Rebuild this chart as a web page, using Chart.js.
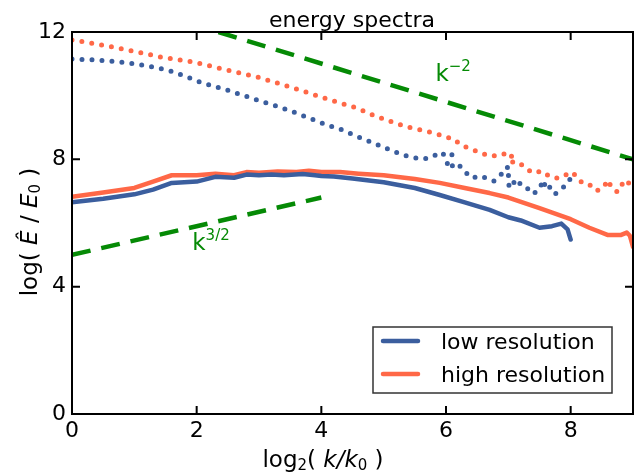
<!DOCTYPE html>
<html>
<head>
<meta charset="utf-8">
<script src="https://cdn.jsdelivr.net/npm/chart.js@4.4.1/dist/chart.umd.min.js"></script>
<style>
  html, body { margin: 0; padding: 0; background: #fff; }
  #wrap { width: 639px; height: 475px; }
</style>
</head>
<body>
<div id="wrap"><canvas id="spectra"></canvas></div>
<script>
// ==========================
// Data
// ==========================
const kLowSolid  = [0, 0.5, 1.0, 1.3, 1.6, 2.0, 2.3, 2.6, 2.8, 3.0, 3.2, 3.4, 3.7, 3.9, 4.0, 4.2, 4.5, 5.0, 5.5, 5.9, 6.3, 6.7, 7.0, 7.2, 7.5, 7.7, 7.85, 7.95, 8.0];
const eLowSolid  = [6.65, 6.76, 6.9, 7.05, 7.26, 7.3, 7.45, 7.42, 7.52, 7.5, 7.52, 7.5, 7.54, 7.5, 7.48, 7.46, 7.4, 7.28, 7.1, 6.88, 6.65, 6.41, 6.18, 6.08, 5.85, 5.9, 5.98, 5.8, 5.48];

const kHighSolid = [0, 0.5, 1.0, 1.3, 1.6, 2.0, 2.3, 2.6, 2.8, 3.0, 3.3, 3.6, 3.8, 4.0, 4.3, 4.6, 5.0, 5.5, 5.9, 6.3, 6.7, 7.0, 7.5, 8.0, 8.3, 8.6, 8.8, 8.9, 8.95, 9.0];
const eHighSolid = [6.82, 6.96, 7.1, 7.3, 7.5, 7.5, 7.55, 7.5, 7.6, 7.58, 7.62, 7.6, 7.64, 7.6, 7.6, 7.55, 7.5, 7.38, 7.26, 7.1, 6.94, 6.8, 6.47, 6.12, 5.85, 5.62, 5.62, 5.7, 5.6, 5.25];

const kLowDot = [0, 0.3, 0.6, 0.9, 1.14, 1.35, 1.57, 1.8, 2.05, 2.25, 2.48, 2.75, 3.02, 3.3, 3.55, 3.8, 4.09, 4.3, 4.57, 4.83, 5.1, 5.31, 5.5, 5.63, 5.78, 5.91, 5.99, 6.05, 6.1, 6.02, 6.03, 6.18, 6.29, 6.42, 6.55, 6.65, 6.77, 6.89, 6.97, 7.03, 7.0, 7.01, 7.01, 7.14, 7.22, 7.32, 7.4, 7.5, 7.56, 7.61, 7.67, 7.75, 7.85, 7.95, 8.01];
const eLowDot = [11.15, 11.13, 11.09, 11.03, 10.96, 10.88, 10.78, 10.62, 10.43, 10.31, 10.18, 10.01, 9.83, 9.66, 9.49, 9.3, 9.08, 8.95, 8.72, 8.52, 8.3, 8.14, 8.05, 8.01, 8.07, 8.23, 8.12, 8.15, 8.16, 7.9, 7.72, 7.89, 7.63, 7.41, 7.48, 7.41, 7.32, 7.54, 7.76, 7.7, 7.55, 7.3, 7.1, 7.38, 7.13, 7.07, 6.91, 7.07, 7.35, 7.04, 7.13, 6.91, 7.07, 7.23, 7.45];

const kHighDot = [0, 0.4, 0.88, 1.41, 1.94, 2.48, 3.02, 3.55, 4.09, 4.57, 4.83, 5.1, 5.37, 5.65, 5.9, 6.0, 6.12, 6.24, 6.39, 6.53, 6.68, 6.84, 6.98, 7.06, 7.01, 7.16, 7.29, 7.4, 7.54, 7.67, 7.8, 7.95, 8.03, 8.11, 8.2, 8.31, 8.41, 8.52, 8.6, 8.65, 8.75, 8.83, 8.89, 8.97, 9.0];
const eHighDot = [11.75, 11.62, 11.44, 11.22, 11.06, 10.81, 10.56, 10.24, 9.9, 9.61, 9.39, 9.2, 9.02, 8.9, 8.77, 8.7, 8.64, 8.45, 8.33, 8.23, 8.11, 8.11, 8.2, 8.14, 7.92, 7.92, 7.7, 7.57, 7.63, 7.45, 7.41, 7.54, 7.6, 7.41, 7.23, 7.19, 7.01, 7.1, 7.35, 7.13, 6.97, 7.23, 7.13, 7.38, 7.3];

// reference slopes: k^-2 and k^(3/2)
const kSlopeMinus2 = [2.35, 9];
const eSlopeMinus2 = [12, 8.0];
const kSlope3Half  = [0, 4];
const eSlope3Half  = [5.0, 6.8];

const xTicks = [0, 2, 4, 6, 8];
const yTicks = [0, 4, 8, 12];
const seriesNames = ["low resolution", "high resolution"];

// ==========================
// Styles
// ==========================
const BLUE   = "#3b5e9e";
const ORANGE = "#ff6847";
const GREEN  = "#058a05";
const FONT   = "'DejaVu Sans', sans-serif";

const pts = (xs, ys) => xs.map((x, i) => ({ x: x, y: ys[i] }));

function lineSet(label, xs, ys, color, extra) {
  return Object.assign({
    label: label,
    data: pts(xs, ys),
    showLine: true,
    borderColor: color,
    backgroundColor: color,
    borderWidth: 4.5,
    pointRadius: 0,
    pointHoverRadius: 0,
    tension: 0,
    borderCapStyle: "round",
    borderJoinStyle: "round"
  }, extra || {});
}

// draw a run of text pieces with their own fonts / offsets
function richWidth(ctx, parts) {
  let w = 0;
  parts.forEach(p => { ctx.font = p.font; w += ctx.measureText(p.t).width; });
  return w;
}
function drawRich(ctx, x, y, parts) {
  parts.forEach(p => {
    ctx.font = p.font;
    ctx.fillText(p.t, x, y + (p.dy || 0));
    x += ctx.measureText(p.t).width;
  });
}

// ==========================
// Frame, ticks, labels, legend
// ==========================
const decorPlugin = {
  id: "decor",
  afterDraw(chart) {
    const ctx = chart.ctx;
    const a = chart.chartArea;
    const xs = chart.scales.x, ys = chart.scales.y;
    ctx.save();

    // frame
    ctx.strokeStyle = "#000";
    ctx.lineWidth = 2;
    ctx.strokeRect(a.left, a.top, a.right - a.left, a.bottom - a.top);

    // inward ticks on all four sides
    const tl = 8;
    ctx.beginPath();
    xTicks.forEach(v => {
      const px = xs.getPixelForValue(v);
      ctx.moveTo(px, a.bottom); ctx.lineTo(px, a.bottom - tl);
      ctx.moveTo(px, a.top);    ctx.lineTo(px, a.top + tl);
    });
    yTicks.forEach(v => {
      const py = ys.getPixelForValue(v);
      ctx.moveTo(a.left, py);  ctx.lineTo(a.left + tl, py);
      ctx.moveTo(a.right, py); ctx.lineTo(a.right - tl, py);
    });
    ctx.stroke();

    ctx.fillStyle = "#000";
    ctx.textBaseline = "alphabetic";
    ctx.textAlign = "left";

    // title
    ctx.font = "22px " + FONT;
    ctx.textAlign = "center";
    ctx.fillText("energy spectra", 352, 27);
    ctx.textAlign = "left";

    // x axis title: log2( k/k0 )
    const big = "23px " + FONT, bigI = "italic 23px " + FONT, sub = "15px " + FONT;
    const xParts = [
      { t: "log", font: big }, { t: "2", font: sub, dy: 3 },
      { t: "( ", font: big }, { t: "k/k", font: bigI },
      { t: "0", font: sub, dy: 3 }, { t: " )", font: big }
    ];
    drawRich(ctx, 323 - richWidth(ctx, xParts) / 2, 467, xParts);

    // y axis title: log( Ê / E0 )
    const yParts = [
      { t: "log( ", font: big }, { t: "Ê", font: bigI },
      { t: " / ", font: big }, { t: "E", font: bigI },
      { t: "0", font: sub, dy: 3 }, { t: " )", font: big }
    ];
    ctx.save();
    ctx.translate(37, 232);
    ctx.rotate(-Math.PI / 2);
    drawRich(ctx, -richWidth(ctx, yParts) / 2, 0, yParts);
    ctx.restore();

    // slope annotations
    ctx.fillStyle = GREEN;
    const gk = "23px " + FONT, gs = "15px " + FONT;
    drawRich(ctx, xs.getPixelForValue(5.83), ys.getPixelForValue(10.47),
      [{ t: "k", font: gk }, { t: "−2", font: gs, dy: -10 }]);
    drawRich(ctx, xs.getPixelForValue(1.93), ys.getPixelForValue(5.15),
      [{ t: "k", font: gk }, { t: "3/2", font: gs, dy: -10 }]);

    // legend box
    const lx = 373, ly = 327, lw = 239, lh = 66;
    ctx.fillStyle = "#fff";
    ctx.fillRect(lx, ly, lw, lh);
    ctx.strokeStyle = "#333";
    ctx.lineWidth = 1.5;
    ctx.strokeRect(lx, ly, lw, lh);
    [BLUE, ORANGE].forEach((c, i) => {
      const yy = ly + 14 + i * 33;
      ctx.strokeStyle = c;
      ctx.lineWidth = 4.5;
      ctx.lineCap = "round";
      ctx.beginPath();
      ctx.moveTo(lx + 10, yy); ctx.lineTo(lx + 45, yy);
      ctx.stroke();
      ctx.fillStyle = "#000";
      ctx.font = "22px " + FONT;
      ctx.fillText(seriesNames[i], lx + 68, yy + 8);
    });

    ctx.restore();
  }
};

// ==========================
// Chart
// ==========================
new Chart(document.getElementById("spectra"), {
  type: "scatter",
  data: {
    datasets: [
      lineSet("low dotted", kLowDot, eLowDot, BLUE, { borderWidth: 5, borderDash: [0, 10] }),
      lineSet("high dotted", kHighDot, eHighDot, ORANGE, { borderWidth: 5, borderDash: [0, 10] }),
      lineSet(seriesNames[0], kLowSolid, eLowSolid, BLUE),
      lineSet(seriesNames[1], kHighSolid, eHighSolid, ORANGE),
      lineSet("k^-2", kSlopeMinus2, eSlopeMinus2, GREEN, { borderWidth: 4.5, borderDash: [19, 11], borderCapStyle: "butt" }),
      lineSet("k^3/2", kSlope3Half, eSlope3Half, GREEN, { borderWidth: 4.5, borderDash: [19, 11], borderCapStyle: "butt" })
    ]
  },
  options: {
    responsive: true,
    maintainAspectRatio: false,
    animation: false,
    events: [],
    layout: { padding: { left: 0, right: 6, top: 32, bottom: 0 } },
    plugins: {
      legend: { display: false },
      tooltip: { enabled: false },
      title: { display: false }
    },
    scales: {
      x: {
        type: "linear",
        min: 0, max: 9,
        afterBuildTicks: s => { s.ticks = xTicks.map(v => ({ value: v })); },
        afterFit: s => { s.height = 61; },
        grid: { display: false, drawTicks: false },
        border: { display: false },
        ticks: { color: "#000", font: { family: FONT, size: 22 }, padding: 4, maxRotation: 0 }
      },
      y: {
        type: "linear",
        min: 0, max: 12,
        afterBuildTicks: s => { s.ticks = yTicks.map(v => ({ value: v })); },
        afterFit: s => { s.width = 72; },
        grid: { display: false, drawTicks: false },
        border: { display: false },
        ticks: { color: "#000", font: { family: FONT, size: 22 }, padding: 6 }
      }
    }
  },
  plugins: [decorPlugin]
});
</script>
</body>
</html>
